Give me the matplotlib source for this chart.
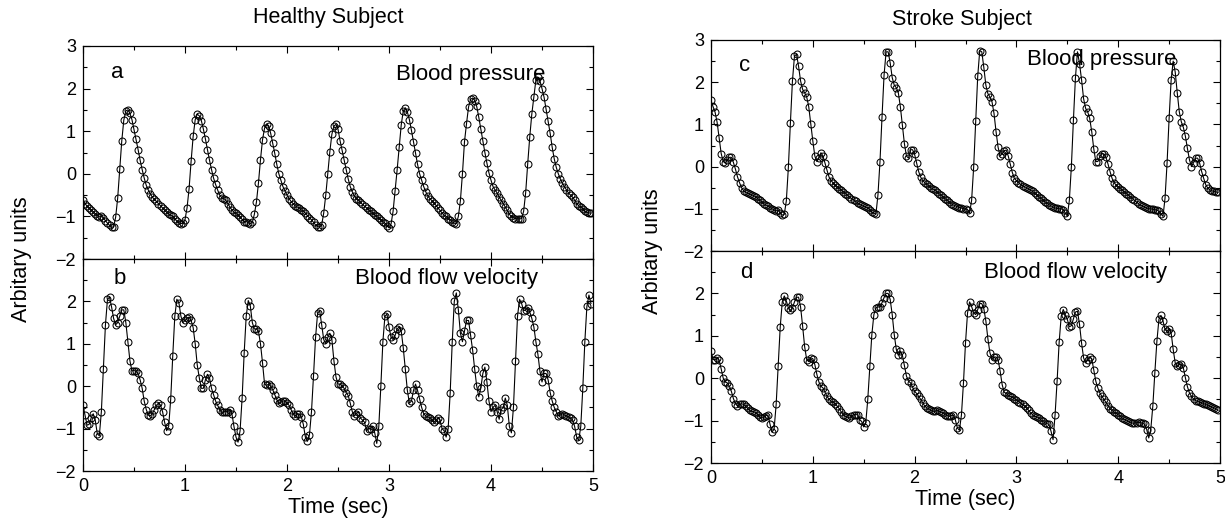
import numpy as np
import matplotlib
matplotlib.use("Agg")
import matplotlib.pyplot as plt
from matplotlib.ticker import MultipleLocator

plt.rcParams["font.family"] = ["Liberation Sans", "DejaVu Sans"]

DT = 0.02  # sampling interval, sec

# healthy subject, blood pressure (a)
healthy_bp = [
    -0.62, -0.70, -0.76, -0.80, -0.85, -0.89, -0.94, -0.98, -1.01, -1.00,
    -1.03, -1.10, -1.16, -1.21, -1.26, -1.24, -1.02, -0.57, 0.11, 0.77,
    1.26, 1.48, 1.50, 1.42, 1.27, 1.04, 0.82, 0.57, 0.32, 0.10,
    -0.10, -0.27, -0.38, -0.47, -0.55, -0.60, -0.65, -0.70, -0.75, -0.80,
    -0.85, -0.90, -0.94, -0.97, -1.00, -1.06, -1.11, -1.15, -1.17, -1.16,
    -1.08, -0.80, -0.35, 0.30, 0.88, 1.27, 1.40, 1.36, 1.25, 1.05,
    0.82, 0.57, 0.32, 0.10, -0.10, -0.25, -0.38, -0.50, -0.56, -0.58,
    -0.62, -0.70, -0.78, -0.85, -0.90, -0.93, -0.97, -1.02, -1.07, -1.12,
    -1.12, -1.15, -1.17, -1.14, -0.95, -0.67, -0.22, 0.33, 0.80, 1.07,
    1.17, 1.13, 0.95, 0.72, 0.48, 0.22, 0.00, -0.15, -0.30, -0.40,
    -0.50, -0.58, -0.65, -0.70, -0.75, -0.78, -0.80, -0.85, -0.88, -0.92,
    -0.98, -1.03, -1.08, -1.14, -1.20, -1.24, -1.25, -1.20, -0.92, -0.50,
    0.00, 0.52, 0.93, 1.12, 1.16, 1.05, 0.78, 0.55, 0.32, 0.10,
    -0.12, -0.30, -0.42, -0.52, -0.58, -0.62, -0.67, -0.72, -0.76, -0.80,
    -0.84, -0.88, -0.92, -0.96, -1.00, -1.04, -1.08, -1.12, -1.16, -1.22,
    -1.27, -1.18, -0.88, -0.40, 0.10, 0.62, 1.15, 1.48, 1.55, 1.45,
    1.27, 1.02, 0.75, 0.48, 0.22, 0.00, -0.15, -0.30, -0.42, -0.52,
    -0.58, -0.63, -0.68, -0.74, -0.80, -0.86, -0.92, -0.97, -1.00, -1.05,
    -1.08, -1.13, -1.16, -1.17, -1.00, -0.63, 0.00, 0.75, 1.18, 1.57,
    1.75, 1.78, 1.72, 1.58, 1.33, 1.05, 0.78, 0.50, 0.25, 0.02,
    -0.15, -0.30, -0.38, -0.45, -0.55, -0.62, -0.70, -0.78, -0.86, -0.95,
    -1.00, -1.03, -1.05, -1.06, -1.06, -1.05, -0.88, -0.44, 0.24, 0.87,
    1.40, 1.80, 2.20, 2.27, 2.18, 2.00, 1.80, 1.52, 1.25, 0.95,
    0.62, 0.35, 0.15, 0.00, -0.12, -0.22, -0.30, -0.38, -0.45, -0.50,
    -0.55, -0.62, -0.70, -0.75, -0.78, -0.82, -0.88, -0.90, -0.92, -0.92,
]

# healthy subject, blood flow velocity (b)
healthy_bfv = [
    -0.45, -0.68, -0.92, -0.90, -0.75, -0.65, -0.80, -1.12, -1.17, -0.60,
    0.40, 1.45, 2.05, 2.10, 1.87, 1.60, 1.45, 1.50, 1.65, 1.80,
    1.80, 1.50, 1.05, 0.60, 0.36, 0.37, 0.35, 0.30, 0.15, -0.05,
    -0.35, -0.55, -0.68, -0.70, -0.65, -0.55, -0.45, -0.40, -0.45, -0.60,
    -0.85, -1.05, -0.95, -0.30, 0.72, 1.65, 2.05, 1.97, 1.65, 1.50,
    1.55, 1.60, 1.63, 1.55, 1.38, 1.00, 0.50, 0.20, -0.05, -0.05,
    0.15, 0.28, 0.20, -0.05, -0.20, -0.35, -0.45, -0.55, -0.62, -0.60,
    -0.60, -0.60, -0.55, -0.65, -0.95, -1.20, -1.32, -1.05, -0.28, 0.78,
    1.65, 2.02, 1.90, 1.50, 1.35, 1.35, 1.30, 1.00, 0.55, 0.05,
    0.02, 0.05, 0.00, -0.08, -0.20, -0.32, -0.40, -0.38, -0.35, -0.35,
    -0.40, -0.45, -0.55, -0.65, -0.70, -0.66, -0.65, -0.72, -0.90, -1.20,
    -1.30, -1.15, -0.60, 0.25, 1.15, 1.72, 1.78, 1.45, 1.10, 1.00,
    1.15, 1.25, 1.10, 0.60, 0.22, 0.05, 0.05, 0.00, -0.05, -0.15,
    -0.22, -0.40, -0.60, -0.70, -0.65, -0.60, -0.75, -0.80, -0.85, -1.05,
    -1.00, -1.00, -0.95, -1.10, -1.35, -0.95, 0.00, 1.05, 1.65, 1.70,
    1.40, 1.15, 1.10, 1.20, 1.35, 1.40, 1.30, 0.90, 0.40, -0.10,
    -0.40, -0.35, -0.10, 0.05, -0.10, -0.30, -0.50, -0.65, -0.70, -0.72,
    -0.75, -0.80, -0.85, -0.80, -0.75, -0.80, -1.00, -1.05, -1.20, -1.00,
    -0.15, 1.05, 2.00, 2.20, 1.80, 1.25, 1.05, 1.30, 1.55, 1.55,
    1.20, 0.85, 0.40, 0.00, -0.25, -0.05, 0.30, 0.45, 0.10, -0.35,
    -0.60, -0.50, -0.45, -0.60, -0.78, -0.55, -0.50, -0.28, -0.45, -0.95,
    -1.10, -0.50, 0.60, 1.65, 2.05, 1.95, 1.78, 1.80, 1.85, 1.75,
    1.60, 1.40, 1.05, 0.75, 0.35, 0.10, 0.30, 0.30, 0.15, -0.15,
    -0.35, -0.50, -0.60, -0.70, -0.68, -0.65, -0.68, -0.70, -0.72, -0.75,
    -0.80, -0.95, -1.20, -1.28, -0.95, -0.05, 1.05, 1.88, 2.15, 1.95,
]

# stroke subject, blood pressure (c)
stroke_bp = [
    1.57, 1.42, 1.29, 1.05, 0.67, 0.31, 0.12, 0.09, 0.16, 0.22,
    0.22, 0.10, -0.06, -0.24, -0.38, -0.50, -0.57, -0.61, -0.63, -0.65,
    -0.67, -0.69, -0.72, -0.76, -0.80, -0.84, -0.88, -0.91, -0.94, -0.97,
    -1.00, -1.03, -1.05, -1.03, -1.10, -1.15, -1.13, -0.81, -0.02, 1.04,
    2.03, 2.62, 2.66, 2.38, 2.03, 1.83, 1.75, 1.65, 1.42, 1.02,
    0.61, 0.25, 0.12, 0.20, 0.33, 0.25, 0.08, -0.09, -0.25, -0.33,
    -0.39, -0.44, -0.48, -0.52, -0.56, -0.60, -0.64, -0.68, -0.72, -0.76,
    -0.78, -0.82, -0.86, -0.89, -0.92, -0.94, -0.96, -0.98, -1.02, -1.08,
    -1.10, -1.13, -0.67, 0.12, 1.18, 2.17, 2.72, 2.72, 2.46, 2.11,
    1.93, 1.87, 1.75, 1.42, 0.98, 0.54, 0.25, 0.20, 0.40, 0.40,
    0.29, 0.08, -0.12, -0.25, -0.33, -0.38, -0.42, -0.46, -0.50, -0.53,
    -0.56, -0.60, -0.64, -0.68, -0.72, -0.76, -0.80, -0.84, -0.88, -0.91,
    -0.93, -0.95, -0.97, -0.98, -1.00, -1.00, -1.02, -1.10, -0.80, -0.02,
    1.09, 2.14, 2.75, 2.72, 2.35, 1.93, 1.73, 1.65, 1.54, 1.26,
    0.83, 0.46, 0.25, 0.31, 0.38, 0.39, 0.25, 0.06, -0.14, -0.28,
    -0.33, -0.38, -0.42, -0.45, -0.48, -0.50, -0.53, -0.56, -0.59, -0.63,
    -0.67, -0.71, -0.75, -0.79, -0.83, -0.87, -0.90, -0.93, -0.96, -0.98,
    -0.99, -1.00, -1.00, -1.02, -1.10, -1.17, -0.80, 0.00, 1.10, 2.11,
    2.72, 2.44, 2.06, 1.61, 1.38, 1.30, 1.14, 0.83, 0.42, 0.12,
    0.12, 0.24, 0.31, 0.30, 0.22, 0.06, -0.12, -0.28, -0.38, -0.44,
    -0.48, -0.52, -0.56, -0.60, -0.64, -0.68, -0.72, -0.76, -0.80, -0.84,
    -0.88, -0.91, -0.94, -0.96, -0.98, -1.00, -1.00, -1.01, -1.02, -1.03,
    -1.06, -1.12, -1.18, -0.75, 0.08, 1.14, 2.05, 2.50, 2.24, 1.75,
    1.30, 1.06, 0.93, 0.72, 0.43, 0.16, 0.00, 0.09, 0.20, 0.20,
    0.08, -0.12, -0.28, -0.43, -0.51, -0.55, -0.57, -0.59, -0.60, -0.61,
]

# stroke subject, blood flow velocity (d)
stroke_bfv = [
    0.65, 0.44, 0.44, 0.48, 0.42, 0.22, 0.00, -0.09, -0.11, -0.19,
    -0.31, -0.48, -0.60, -0.65, -0.62, -0.60, -0.62, -0.66, -0.71, -0.76,
    -0.78, -0.79, -0.82, -0.86, -0.92, -0.94, -0.92, -0.88, -0.87, -1.09,
    -1.27, -1.20, -0.62, 0.28, 1.21, 1.80, 1.94, 1.82, 1.66, 1.60,
    1.66, 1.80, 1.91, 1.91, 1.68, 1.23, 0.74, 0.44, 0.39, 0.48,
    0.46, 0.32, 0.09, -0.09, -0.19, -0.23, -0.33, -0.43, -0.50, -0.54,
    -0.57, -0.60, -0.66, -0.72, -0.80, -0.86, -0.90, -0.92, -0.94, -0.90,
    -0.86, -0.86, -0.86, -0.98, -1.02, -1.15, -1.06, -0.50, 0.28, 1.03,
    1.50, 1.66, 1.68, 1.68, 1.78, 1.90, 2.00, 2.00, 1.86, 1.50,
    1.03, 0.68, 0.54, 0.64, 0.54, 0.30, 0.05, -0.07, -0.11, -0.21,
    -0.31, -0.36, -0.43, -0.50, -0.58, -0.66, -0.70, -0.72, -0.76, -0.78,
    -0.78, -0.76, -0.78, -0.80, -0.82, -0.86, -0.88, -0.90, -0.88, -0.87,
    -0.98, -1.17, -1.23, -0.87, -0.11, 0.83, 1.54, 1.80, 1.69, 1.54,
    1.50, 1.62, 1.76, 1.76, 1.64, 1.35, 0.93, 0.60, 0.44, 0.50,
    0.50, 0.44, 0.17, -0.15, -0.33, -0.36, -0.40, -0.43, -0.45, -0.48,
    -0.52, -0.55, -0.58, -0.62, -0.65, -0.70, -0.76, -0.82, -0.86, -0.90,
    -0.91, -0.94, -0.98, -1.02, -1.05, -1.07, -1.09, -1.25, -1.45, -0.86,
    -0.06, 0.85, 1.46, 1.62, 1.50, 1.39, 1.21, 1.24, 1.40, 1.56,
    1.58, 1.27, 0.83, 0.48, 0.36, 0.44, 0.50, 0.46, 0.19, -0.07,
    -0.23, -0.35, -0.43, -0.50, -0.57, -0.65, -0.72, -0.76, -0.80, -0.83,
    -0.86, -0.90, -0.94, -0.97, -0.99, -1.02, -1.04, -1.06, -1.06, -1.05,
    -1.04, -1.05, -1.06, -1.09, -1.21, -1.41, -1.21, -0.66, 0.13, 0.87,
    1.39, 1.48, 1.35, 1.15, 1.11, 1.17, 1.07, 0.68, 0.36, 0.28,
    0.32, 0.34, 0.24, 0.01, -0.20, -0.35, -0.43, -0.49, -0.53, -0.54,
    -0.57, -0.58, -0.60, -0.62, -0.64, -0.66, -0.68, -0.70, -0.72, -0.76,
]

W, H = 1225, 521


def add_axes_px(fig, x0, y0, x1, y1):
    return fig.add_axes([x0 / W, 1 - y1 / H, (x1 - x0) / W, (y1 - y0) / H])


def style(ax, yticks, show_x):
    ax.set_xlim(0, 5)
    ax.set_ylim(-2, 3)
    ax.set_yticks(yticks)
    ax.set_xticks([0, 1, 2, 3, 4, 5])
    ax.xaxis.set_minor_locator(MultipleLocator(0.5))
    ax.yaxis.set_minor_locator(MultipleLocator(0.5))
    ax.tick_params(which="both", direction="in", top=True, right=True,
                   labelsize=13, width=0.8, pad=5)
    ax.tick_params(which="major", length=5)
    ax.tick_params(which="minor", length=3)
    if not show_x:
        ax.tick_params(labelbottom=False)
    for s in ax.spines.values():
        s.set_linewidth(0.9)


def trace(ax, vals):
    t = np.arange(len(vals)) * DT
    ax.plot(t, vals, color="black", lw=0.8, marker="o", ms=5,
            mfc="none", mec="black", mew=0.75)


fig = plt.figure(figsize=(W / 100, H / 100), dpi=100)

# left column: healthy subject
ax_a = add_axes_px(fig, 83, 46, 593, 259)
ax_b = add_axes_px(fig, 83, 259, 593, 471)
# right column: stroke subject
ax_c = add_axes_px(fig, 711, 40, 1220, 251)
ax_d = add_axes_px(fig, 711, 251, 1220, 463)

style(ax_a, [-2, -1, 0, 1, 2, 3], False)
style(ax_b, [-2, -1, 0, 1, 2], True)
style(ax_c, [-2, -1, 0, 1, 2, 3], False)
style(ax_d, [-2, -1, 0, 1, 2], True)

trace(ax_a, healthy_bp)
trace(ax_b, healthy_bfv)
trace(ax_c, stroke_bp)
trace(ax_d, stroke_bfv)

ax_a.text(0.34, 2.37, "a", fontsize=16, ha="center", va="center")
ax_a.text(3.80, 2.32, "Blood pressure", fontsize=16, ha="center", va="center")
ax_b.text(0.36, 2.55, "b", fontsize=16, ha="center", va="center")
ax_b.text(3.56, 2.55, "Blood flow velocity", fontsize=16, ha="center", va="center")
ax_c.text(0.33, 2.39, "c", fontsize=16, ha="center", va="center")
ax_c.text(3.84, 2.53, "Blood pressure", fontsize=16, ha="center", va="center")
ax_d.text(0.35, 2.50, "d", fontsize=16, ha="center", va="center")
ax_d.text(3.58, 2.50, "Blood flow velocity", fontsize=16, ha="center", va="center")

fig.text(328 / W, 1 - 18 / H, "Healthy Subject", fontsize=15.5, ha="center", va="center")
fig.text(962 / W, 1 - 19 / H, "Stroke Subject", fontsize=15.5, ha="center", va="center")
fig.text(338 / W, 1 - 508 / H, "Time (sec)", fontsize=15.5, ha="center", va="center")
fig.text(965 / W, 1 - 500 / H, "Time (sec)", fontsize=15.5, ha="center", va="center")
fig.text(22 / W, 1 - 259 / H, "Arbitary units", fontsize=15.5, rotation=90,
         ha="center", va="center")
fig.text(653 / W, 1 - 251 / H, "Arbitary units", fontsize=15.5, rotation=90,
         ha="center", va="center")

fig.savefig("out.png", dpi=100)
